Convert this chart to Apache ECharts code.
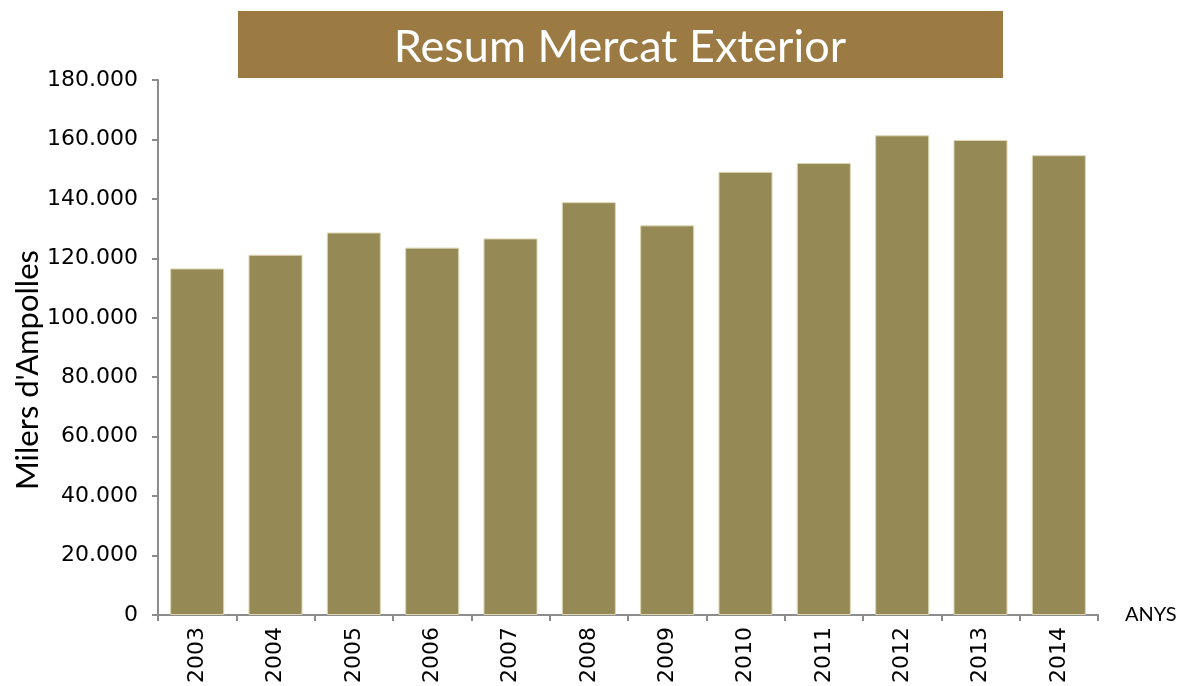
<!DOCTYPE html>
<html>
<head>
<meta charset="utf-8">
<script src="https://cdn.jsdelivr.net/npm/echarts@6/dist/echarts.min.js"></script>
<style>
  html, body { margin: 0; padding: 0; background: #fff; }
  #chart { width: 1187px; height: 686px; }
</style>
</head>
<body>
<div id="chart"></div>
<script>
// dades (milers d'ampolles)
var years = ['2003', '2004', '2005', '2006', '2007', '2008', '2009', '2010', '2011', '2012', '2013', '2014'];
var bottles = [116600, 121200, 128700, 123600, 126700, 138900, 131100, 149100, 152100, 161400, 159800, 154700];
var titleText = 'Resum Mercat Exterior';
var yName = "Milers d'Ampolles";
var xName = 'ANYS';

// 180000 -> 180.000
function fmtThousands(v) {
  return String(v).replace(/\B(?=(\d{3})+(?!\d))/g, '.');
}

var myChart = echarts.init(document.getElementById('chart'));
var option = {
  animation: false,
  backgroundColor: '#fff',
  graphic: [
    {
      type: 'rect',
      left: 238,
      top: 11,
      shape: { width: 765, height: 67 },
      style: { fill: '#9b7b43' }
    },
    {
      type: 'text',
      x: 620,
      y: 47,
      style: {
        text: titleText,
        fill: '#fff',
        font: '45px Lato',
        textAlign: 'center',
        textVerticalAlign: 'middle'
      }
    },
    {
      // titol eix Y
      type: 'text',
      x: 28,
      y: 370,
      rotation: Math.PI / 2,
      style: {
        text: yName,
        fill: '#000',
        font: '31px Lato',
        textAlign: 'center',
        textVerticalAlign: 'middle'
      }
    }
  ],
  grid: { left: 158, right: 89, top: 80, bottom: 70, containLabel: false },
  xAxis: {
    type: 'category',
    data: years,
    name: xName,
    nameLocation: 'end',
    nameGap: 27,
    nameTextStyle: { color: '#000', fontSize: 20, fontFamily: 'Lato', padding: [8, 0, 0, 0] },
    axisLine: { lineStyle: { color: '#8c8c8c', width: 2 } },
    axisTick: { show: true, length: 6, alignWithLabel: false, lineStyle: { color: '#8c8c8c', width: 2 } },
    axisLabel: { rotate: 90, color: '#000', fontSize: 22, fontFamily: 'DejaVu Sans', margin: 12 }
  },
  yAxis: {
    type: 'value',
    min: 0,
    max: 180000,
    interval: 20000,
    axisLine: { show: true, lineStyle: { color: '#8c8c8c', width: 2 } },
    axisTick: { show: true, length: 6, lineStyle: { color: '#8c8c8c', width: 2 } },
    splitLine: { show: false },
    axisLabel: {
      color: '#000', fontSize: 22, fontFamily: 'DejaVu Sans', margin: 20,
      formatter: fmtThousands
    }
  },
  series: [{
    type: 'bar',
    data: bottles,
    barCategoryGap: '31%',
    itemStyle: { color: '#958a55', borderColor: '#ddd6b4', borderWidth: 1 }
  }]
};
myChart.setOption(option);
</script>
</body>
</html>
